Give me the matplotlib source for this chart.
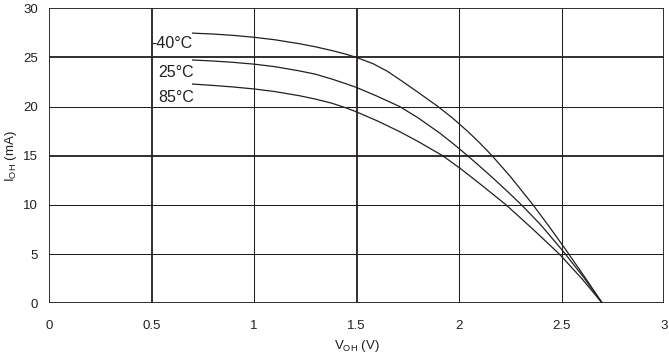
import matplotlib
matplotlib.use("Agg")
import matplotlib.pyplot as plt

# curves: V_OH (V) vs I_OH (mA)
v_m40 = [0.70, 0.80, 0.90, 1.00, 1.10, 1.22, 1.30, 1.38, 1.45, 1.50, 1.58, 1.65, 1.72,
         1.80, 1.897, 1.97, 2.044, 2.10, 2.16, 2.25, 2.36, 2.44, 2.52, 2.61, 2.70]
i_m40 = [27.45, 27.36, 27.22, 27.03, 26.78, 26.38, 26.06, 25.68, 25.30, 24.98, 24.35, 23.58, 22.60,
         21.44, 20.00, 18.80, 17.44, 16.32, 15.03, 12.90, 10.04, 7.80, 5.48, 2.78, 0.0]

v_25 = [0.70, 0.80, 0.90, 1.00, 1.10, 1.22, 1.30, 1.385, 1.45, 1.50, 1.60, 1.71, 1.80,
        1.906, 1.97, 2.036, 2.10, 2.17, 2.24, 2.31, 2.40, 2.51, 2.61, 2.70]
i_25 = [24.72, 24.62, 24.48, 24.30, 24.05, 23.62, 23.28, 22.75, 22.30, 21.93, 21.05, 20.00, 18.85,
        17.30, 16.25, 15.10, 13.95, 12.65, 11.30, 9.90, 7.95, 5.25, 2.60, 0.0]

v_85 = [0.70, 0.80, 0.90, 1.00, 1.10, 1.22, 1.30, 1.38, 1.45, 1.50, 1.60, 1.71, 1.80,
        1.92, 2.01, 2.12, 2.23, 2.36, 2.49, 2.60, 2.70]
i_85 = [22.28, 22.14, 21.98, 21.78, 21.52, 21.10, 20.75, 20.33, 19.85, 19.45, 18.55, 17.45, 16.45,
        15.00, 13.65, 11.85, 10.00, 7.55, 5.00, 2.50, 0.0]

labels = ["-40°C", "25°C", "85°C"]
label_x = [0.50, 0.534, 0.534]
label_y = [26.35, 23.5, 20.9]

x_ticks = [0, 0.5, 1, 1.5, 2, 2.5, 3]
x_tick_labels = ["0", "0.5", "1", "1.5", "2", "2.5", "3"]
y_ticks = [0, 5, 10, 15, 20, 25, 30]
thick_x = [0, 0.5, 1.5, 3]
thick_y = [0, 15, 25, 30]

ink = "#231f20"
plt.rcParams["font.family"] = ["Liberation Sans", "DejaVu Sans"]

fig = plt.figure(figsize=(6.69, 3.57), dpi=100)
ax = fig.add_axes([0.0735, 0.150, 0.919, 0.8275])
ax.set_xlim(0, 3)
ax.set_ylim(0, 30)

# grid: some lines heavier than others
for xv in x_ticks:
    lw = 1.3 if xv in thick_x else 0.75
    ax.axvline(xv, color=ink, lw=lw, zorder=1)
for yv in y_ticks:
    lw = 1.3 if yv in thick_y else 0.75
    ax.axhline(yv, color=ink, lw=lw, zorder=1)

for s in ax.spines.values():
    s.set_visible(False)

for v, i in [(v_m40, i_m40), (v_25, i_25), (v_85, i_85)]:
    ax.plot(v, i, color=ink, lw=0.9, zorder=3, solid_joinstyle="round")

for lab, lx, ly in zip(labels, label_x, label_y):
    ax.text(lx, ly, lab, fontsize=11.5, color=ink, va="center", ha="left", zorder=4)

ax.set_xticks(x_ticks)
ax.set_xticklabels(x_tick_labels)
ax.set_yticks(y_ticks)
ax.tick_params(axis="both", length=0, labelsize=9.5, colors=ink)
ax.tick_params(axis="x", pad=12)
ax.tick_params(axis="y", pad=8)

ax.set_xlabel("V$_{\\mathregular{OH}}$ (V)", fontsize=9.5, color=ink, labelpad=4)
ax.set_ylabel("I$_{\\mathregular{OH}}$ (mA)", fontsize=9.5, color=ink, labelpad=3)

fig.savefig("out.png", dpi=100)
